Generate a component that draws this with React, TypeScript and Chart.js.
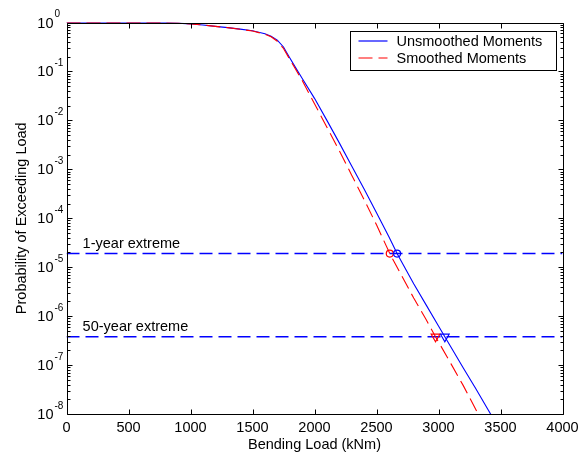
import React, { useEffect, useRef } from "react";
import { Chart, registerables } from "chart.js";

Chart.register(...registerables);

// Exceedance curves for the blade-root bending load
const LOADS_UNSMOOTHED = [0, 400, 700, 800, 900, 1000, 1100, 1200, 1300, 1400, 1500, 1600, 1650, 1700, 1750, 1800, 1850, 1900, 2000, 2100, 2200, 2300, 2400, 2500, 2600, 2666, 2700, 2800, 2900, 3000, 3051, 3100, 3200, 3300, 3420, 3500];
const PROB_UNSMOOTHED = [1, 1, 1, 0.993, 0.973, 0.933, 0.891, 0.832, 0.785, 0.733, 0.676, 0.589, 0.525, 0.437, 0.316, 0.191, 0.117, 0.0724, 0.0282, 0.01, 3.47e-3, 1.17e-3, 3.98e-4, 1.29e-4, 4.17e-5, 1.9e-5, 1.32e-5, 4.57e-6, 1.7e-6, 6.31e-7, 3.8e-7, 2.34e-7, 8.71e-8, 3.31e-8, 1.0e-8, 4.5e-9];

const LOADS_SMOOTHED = [0, 400, 700, 800, 900, 1000, 1100, 1200, 1300, 1400, 1500, 1600, 1650, 1700, 1750, 1800, 1850, 1900, 2000, 2100, 2200, 2300, 2400, 2500, 2607, 2700, 2800, 2900, 2976, 3100, 3200, 3320, 3400];
const PROB_SMOOTHED = [1, 1, 1, 0.993, 0.973, 0.933, 0.891, 0.832, 0.785, 0.728, 0.668, 0.58, 0.51, 0.415, 0.295, 0.178, 0.108, 0.066, 0.0219, 7.24e-3, 2.4e-3, 7.59e-4, 2.4e-4, 7.33e-5, 1.9e-5, 6.92e-6, 2.34e-6, 8.51e-7, 3.8e-7, 1.07e-7, 3.8e-8, 1.0e-8, 4.3e-9];

// Extreme-event probability levels and where each curve crosses them
const EXTREME_LABELS = ["1-year extreme", "50-year extreme"];
const EXTREME_LEVELS = [1.9e-5, 3.8e-7];
const CROSSINGS_UNSMOOTHED = [2666, 3051];
const CROSSINGS_SMOOTHED = [2607, 2976];

const SERIES_NAMES = ["Unsmoothed Moments", "Smoothed Moments"];
const X_TICKS = [0, 500, 1000, 1500, 2000, 2500, 3000, 3500, 4000];
const Y_EXPONENTS = [0, -1, -2, -3, -4, -5, -6, -7, -8];

const FONT = "'Liberation Sans', Arial, Helvetica, sans-serif";
const FONT_SIZE = 14.5;
const BLUE = "#0000ff";
const RED = "#ff0000";
const CURVE_DASH = [14, 6];
const LEVEL_DASH = [13, 6];

const frame = {
  id: "matlabFrame",
  afterDatasetsDraw(chart: any) {
    const { ctx, chartArea: a, scales } = chart;
    const xs = scales.x;
    const ys = scales.y;
    ctx.save();
    ctx.strokeStyle = "#000";
    ctx.lineWidth = 1;
    ctx.setLineDash([]);
    ctx.beginPath();
    const L = Math.round(a.left) + 0.5;
    const R = Math.round(a.right) + 0.5;
    const T = Math.round(a.top) + 0.5;
    const B = Math.round(a.bottom) + 0.5;
    ctx.rect(L, T, R - L, B - T);
    // x ticks, pointing inward on bottom and top
    X_TICKS.forEach((v) => {
      const px = Math.round(xs.getPixelForValue(v)) + 0.5;
      ctx.moveTo(px, B);
      ctx.lineTo(px, B - 5);
      ctx.moveTo(px, T);
      ctx.lineTo(px, T + 5);
    });
    // y ticks: decades plus 2..9 minors, on left and right
    Y_EXPONENTS.forEach((e) => {
      const py = Math.round(ys.getPixelForValue(Math.pow(10, e))) + 0.5;
      ctx.moveTo(L, py);
      ctx.lineTo(L + 5, py);
      ctx.moveTo(R, py);
      ctx.lineTo(R - 5, py);
      if (e > -8) {
        for (let m = 2; m <= 9; m++) {
          const my = Math.round(ys.getPixelForValue(m * Math.pow(10, e - 1))) + 0.5;
          ctx.moveTo(L, my);
          ctx.lineTo(L + 3, my);
          ctx.moveTo(R, my);
          ctx.lineTo(R - 3, my);
        }
      }
    });
    ctx.stroke();

    // decade labels with raised exponents
    ctx.fillStyle = "#000";
    Y_EXPONENTS.forEach((e) => {
      const py = ys.getPixelForValue(Math.pow(10, e));
      ctx.font = `${FONT_SIZE}px ${FONT}`;
      ctx.textAlign = "right";
      ctx.textBaseline = "middle";
      ctx.fillText("10", a.left - 13, py + 1);
      ctx.font = `10px ${FONT}`;
      ctx.textAlign = "left";
      ctx.fillText(e === 0 ? "0" : "-" + Math.abs(e), a.left - 12, py - 8);
    });

    // level captions above the dashed lines
    ctx.font = `${FONT_SIZE}px ${FONT}`;
    ctx.textAlign = "left";
    ctx.textBaseline = "middle";
    EXTREME_LEVELS.forEach((lv, i) => {
      const py = ys.getPixelForValue(lv);
      ctx.fillText(EXTREME_LABELS[i], xs.getPixelForValue(130), py - 10);
    });
    ctx.restore();
  },
  afterDraw(chart: any) {
    const { ctx, chartArea: a } = chart;
    ctx.save();
    const bx = Math.round(a.right - 213) + 0.5;
    const by = Math.round(a.top + 8) + 0.5;
    const bw = 206;
    const bh = 39;
    ctx.fillStyle = "#fff";
    ctx.fillRect(bx, by, bw, bh);
    ctx.strokeStyle = "#000";
    ctx.lineWidth = 1;
    ctx.strokeRect(bx, by, bw, bh);
    const colors = [BLUE, RED];
    const dashes = [[], CURVE_DASH];
    SERIES_NAMES.forEach((name, i) => {
      const ry = Math.round(by) + 9 + i * 17;
      ctx.strokeStyle = colors[i];
      ctx.lineWidth = 1.2;
      ctx.setLineDash(dashes[i]);
      ctx.beginPath();
      ctx.moveTo(bx + 8, ry);
      ctx.lineTo(bx + 37, ry);
      ctx.stroke();
      ctx.setLineDash([]);
      ctx.fillStyle = "#000";
      ctx.font = `${FONT_SIZE}px ${FONT}`;
      ctx.textAlign = "left";
      ctx.textBaseline = "middle";
      ctx.fillText(name, bx + 46, ry + 1);
    });
    ctx.restore();
  },
};

export default function App() {
  const ref = useRef<HTMLCanvasElement | null>(null);

  useEffect(() => {
    if (!ref.current) return;
    const toXY = (xs: number[], ys: number[]) => xs.map((x, i) => ({ x, y: ys[i] }));
    const levelLines = EXTREME_LEVELS.map((lv) => ({
      data: [
        { x: X_TICKS[0], y: lv },
        { x: X_TICKS[X_TICKS.length - 1], y: lv },
      ],
      borderColor: BLUE,
      borderWidth: 1.4,
      borderDash: LEVEL_DASH,
      pointRadius: 0,
      order: 3,
    }));
    const marker = (x: number, y: number, color: string, style: string, r: number, rot: number) => ({
      data: [{ x, y }],
      showLine: false,
      pointStyle: style,
      rotation: rot,
      pointRadius: r,
      borderColor: color,
      backgroundColor: "rgba(0,0,0,0)",
      borderWidth: 1.2,
      order: 0,
    });
    const chart = new Chart(ref.current, {
      type: "line",
      data: {
        datasets: [
          {
            label: SERIES_NAMES[0],
            data: toXY(LOADS_UNSMOOTHED, PROB_UNSMOOTHED),
            borderColor: BLUE,
            borderWidth: 1.1,
            pointRadius: 0,
            order: 2,
          },
          {
            label: SERIES_NAMES[1],
            data: toXY(LOADS_SMOOTHED, PROB_SMOOTHED),
            borderColor: RED,
            borderWidth: 1.1,
            borderDash: CURVE_DASH,
            pointRadius: 0,
            order: 1,
          },
          ...levelLines,
          marker(CROSSINGS_UNSMOOTHED[0], EXTREME_LEVELS[0], BLUE, "circle", 3.5, 0),
          marker(CROSSINGS_SMOOTHED[0], EXTREME_LEVELS[0], RED, "circle", 3.5, 0),
          marker(CROSSINGS_UNSMOOTHED[1], EXTREME_LEVELS[1], BLUE, "triangle", 5, 180),
          marker(CROSSINGS_SMOOTHED[1], EXTREME_LEVELS[1], RED, "triangle", 5, 180),
        ] as any,
      },
      options: {
        responsive: false,
        animation: false,
        events: [],
        layout: { padding: { top: 22.5, right: 24.5, left: 0, bottom: 0 } },
        plugins: { legend: { display: false }, tooltip: { enabled: false } },
        scales: {
          x: {
            type: "linear",
            min: 0,
            max: 4000,
            afterBuildTicks: (s: any) => {
              s.ticks = X_TICKS.map((v) => ({ value: v }));
            },
            afterFit: (s: any) => {
              s.height = 45;
            },
            grid: { display: false, drawTicks: false },
            border: { display: false },
            ticks: {
              padding: 5,
              color: "#000",
              font: { family: FONT, size: FONT_SIZE },
              maxRotation: 0,
              callback: (v: any) => String(v),
            },
            title: {
              display: true,
              text: "Bending Load (kNm)",
              color: "#000",
              font: { family: FONT, size: FONT_SIZE },
              padding: { top: 0, bottom: 5 },
            },
          },
          y: {
            type: "logarithmic",
            min: 1e-8,
            max: 1,
            afterFit: (s: any) => {
              s.width = 66.5;
            },
            grid: { display: false, drawTicks: false },
            border: { display: false },
            ticks: { display: false },
            title: {
              display: true,
              text: "Probability of Exceeding Load",
              color: "#000",
              font: { family: FONT, size: FONT_SIZE },
              padding: { top: 13, bottom: 0 },
            },
          },
        },
      } as any,
      plugins: [frame],
    });
    return () => chart.destroy();
  }, []);

  return (
    <div style={{ position: "absolute", left: 0, top: 0, width: 587, height: 459, background: "#fff" }}>
      <canvas ref={ref} width={587} height={459} />
    </div>
  );
}
